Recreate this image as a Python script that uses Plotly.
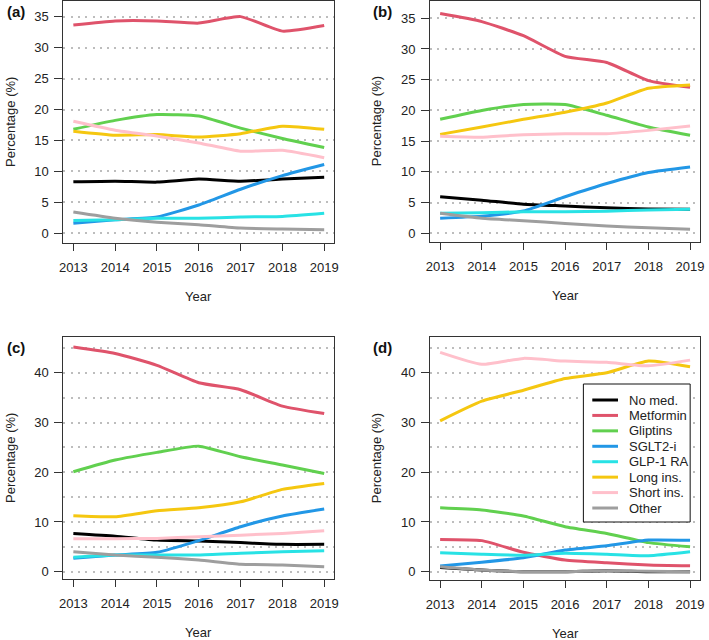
import plotly.graph_objects as go

W, H = 709, 640

years = [2013, 2014, 2015, 2016, 2017, 2018, 2019]
names = ["No med.", "Metformin", "Gliptins", "SGLT2-i", "GLP-1 RA",
         "Long ins.", "Short ins.", "Other"]
colors = ["#000000", "#DF536B", "#61D04F", "#2297E6", "#28E2E5",
          "#F5C710", "#FFC0CB", "#9E9E9E"]

# values per panel, rows in the order of `names`
vals_a = [
    [8.3, 8.4, 8.25, 8.75, 8.4, 8.75, 9.05],
    [33.7, 34.35, 34.35, 34.0, 35.05, 32.7, 33.6],
    [16.8, 18.25, 19.2, 18.95, 17.0, 15.3, 13.85],
    [1.6, 2.15, 2.6, 4.55, 7.1, 9.3, 11.1],
    [2.05, 2.15, 2.4, 2.4, 2.6, 2.7, 3.2],
    [16.5, 15.85, 15.95, 15.55, 16.1, 17.3, 16.8],
    [18.1, 16.65, 15.7, 14.6, 13.25, 13.4, 12.2],
    [3.4, 2.4, 1.75, 1.35, 0.8, 0.65, 0.55],
]
vals_b = [
    [5.95, 5.4, 4.75, 4.45, 4.15, 3.95, 3.9],
    [35.75, 34.45, 32.15, 28.8, 27.8, 24.85, 23.75],
    [18.55, 20.0, 20.95, 20.95, 19.2, 17.3, 15.95],
    [2.45, 2.8, 3.65, 5.95, 8.1, 9.9, 10.8],
    [3.25, 3.35, 3.5, 3.5, 3.6, 3.8, 3.9],
    [16.1, 17.3, 18.55, 19.7, 21.2, 23.6, 24.15],
    [15.8, 15.65, 16.05, 16.2, 16.2, 16.75, 17.45],
    [3.25, 2.45, 2.05, 1.6, 1.2, 0.9, 0.65],
]
vals_c = [
    [7.7, 7.15, 6.35, 6.15, 5.85, 5.5, 5.5],
    [45.2, 43.9, 41.5, 38.0, 36.6, 33.3, 31.8],
    [20.1, 22.45, 24.0, 25.25, 23.1, 21.45, 19.75],
    [2.7, 3.35, 3.9, 6.25, 9.05, 11.2, 12.6],
    [2.9, 3.35, 3.35, 3.35, 3.7, 4.0, 4.2],
    [11.25, 11.05, 12.25, 12.85, 14.05, 16.55, 17.75],
    [6.65, 6.65, 6.7, 7.05, 7.35, 7.7, 8.25],
    [4.0, 3.35, 2.9, 2.35, 1.5, 1.35, 1.0],
]
vals_d = [
    [0.85, 0.35, 0.0, 0.0, 0.2, 0.0, 0.0],
    [6.5, 6.25, 3.9, 2.35, 1.8, 1.35, 1.2],
    [12.85, 12.4, 11.2, 9.05, 7.7, 5.85, 5.0],
    [1.15, 1.9, 2.8, 4.35, 5.2, 6.35, 6.3],
    [3.8, 3.5, 3.3, 3.7, 3.5, 3.2, 4.0],
    [30.35, 34.3, 36.5, 38.85, 40.0, 42.35, 41.2],
    [44.1, 41.7, 42.9, 42.35, 42.1, 41.4, 42.55],
    [1.0, 0.35, 0.0, 0.0, 0.2, 0.1, 0.0],
]

panel_labels = ["(a)", "(b)", "(c)", "(d)"]
panel_vals = [vals_a, vals_b, vals_c, vals_d]

# pixel boxes of each panel: left, right, top, bottom
boxes = [(60, 334, 1, 243), (431, 704, 1, 242), (60, 334, 337, 579), (431, 704, 337, 580)]
yranges = [(-1.61, 37.58), (-1.41, 37.8), (-1.47, 47.2), (-1.67, 47.2)]
ydticks = [5, 5, 10, 10]

font = "Arial, Liberation Sans, sans-serif"
ink = "#222222"
grid_dash = "2px,5.3px"

fig = go.Figure()
layout = {}
for i, vals in enumerate(panel_vals):
    sfx = "" if i == 0 else str(i + 1)
    for name, color, v in zip(names, colors, vals):
        fig.add_trace(go.Scatter(
            x=years, y=v, mode="lines", name=name,
            line=dict(color=color, width=3, shape="spline", smoothing=0.5),
            xaxis="x" + sfx, yaxis="y" + sfx, showlegend=False,
        ))
    l, r, t, b = boxes[i]
    layout["xaxis" + sfx] = dict(
        domain=[l / W, r / W], anchor="y" + sfx,
        range=[2012.76, 2019.24], tickvals=years,
        showgrid=False, zeroline=False,
        showline=True, mirror=True, linecolor="#333333", linewidth=1,
        ticks="outside", ticklen=7, tickcolor="#333333",
        tickfont=dict(size=13, color=ink, family=font),
        ticklabelstandoff=5,
    )
    layout["yaxis" + sfx] = dict(
        domain=[1 - b / H, 1 - t / H], anchor="x" + sfx,
        range=list(yranges[i]), dtick=ydticks[i], tick0=0,
        showgrid=True, gridcolor="#BDBDBD", gridwidth=1.5, griddash=grid_dash,
        zeroline=False,
        minor=dict(dtick=5, tick0=0, showgrid=True, gridcolor="#BDBDBD",
                   gridwidth=1.5, griddash=grid_dash, ticks=""),
        showline=True, mirror=True, linecolor="#333333", linewidth=1,
        ticks="outside", ticklen=8, tickcolor="#333333",
        tickfont=dict(size=13, color=ink, family=font),
        ticklabelstandoff=3,
    )

annotations = []
for i, lab in enumerate(panel_labels):
    l, r, t, b = boxes[i]
    # panel letter
    annotations.append(dict(
        text="<b>" + lab + "</b>", x=(l - 48) / W, y=1 - (t + 10) / H,
        xref="paper", yref="paper", showarrow=False, xanchor="center", yanchor="middle",
        font=dict(size=15, color="#111111", family=font),
    ))
    # axis titles
    annotations.append(dict(
        text="Year", x=(l + r) / 2 / W, y=1 - (b + 53) / H,
        xref="paper", yref="paper", showarrow=False, xanchor="center", yanchor="middle",
        font=dict(size=13, color=ink, family=font),
    ))
    annotations.append(dict(
        text="Percentage (%)", x=(l - 54) / W, y=1 - (t + b) / 2 / H,
        xref="paper", yref="paper", showarrow=False, xanchor="center", yanchor="middle",
        textangle=-90, font=dict(size=13, color=ink, family=font),
    ))

# legend drawn inside panel (d)
shapes = [dict(type="rect", xref="paper", yref="paper",
               x0=586 / W, x1=694 / W, y0=1 - 522 / H, y1=1 - 384 / H,
               line=dict(color="#111111", width=1), fillcolor="white", layer="above")]
for k, (name, color) in enumerate(zip(names, colors)):
    yc = 400 + k * 15.43
    shapes.append(dict(type="line", xref="paper", yref="paper",
                       x0=595 / W, x1=621 / W, y0=1 - yc / H, y1=1 - yc / H,
                       line=dict(color=color, width=3), layer="above"))
    annotations.append(dict(
        text=name, x=630 / W, y=1 - yc / H, xref="paper", yref="paper",
        showarrow=False, xanchor="left", yanchor="middle",
        font=dict(size=13, color=ink, family=font),
    ))

fig.update_layout(
    width=W, height=H,
    margin=dict(l=0, r=0, t=0, b=0),
    paper_bgcolor="white", plot_bgcolor="white",
    showlegend=False,
    annotations=annotations, shapes=shapes,
    **layout,
)

# drop the browser's default page margin so the figure sits at the window corner
fig.write_html("out.html", config={"displayModeBar": False},
               post_script="document.body.style.margin='0';document.body.style.overflow='hidden';")
